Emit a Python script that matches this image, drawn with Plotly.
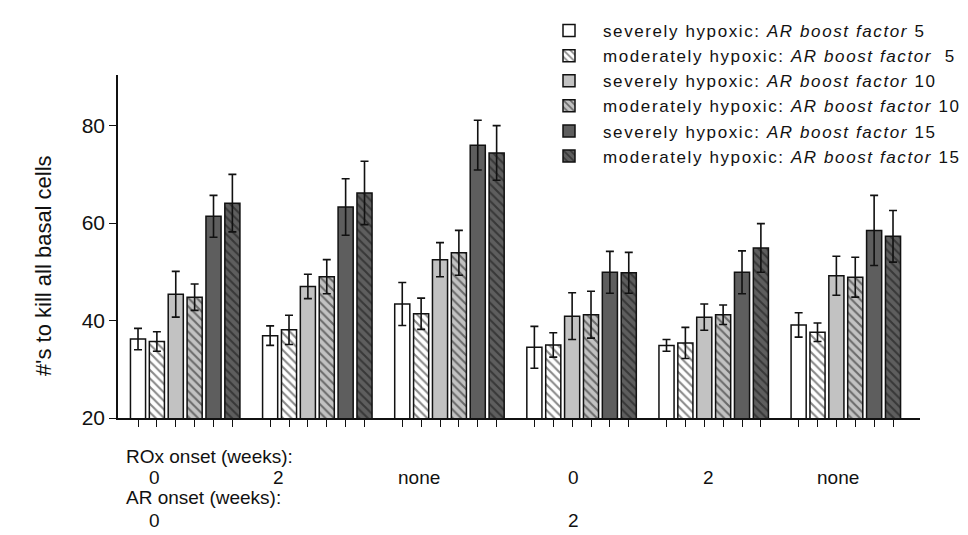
import plotly.graph_objects as go

# ---- data ----
groups_rox = ["0", "2", "none", "0", "2", "none"]
groups_ar = ["0", "", "", "2", "", ""]

series_names = [
    "severely hypoxic: <i>AR boost factor</i> 5",
    "moderately hypoxic: <i>AR boost factor</i> &nbsp;5",
    "severely hypoxic: <i>AR boost factor</i> 10",
    "moderately hypoxic: <i>AR boost factor</i> 10",
    "severely hypoxic: <i>AR boost factor</i> 15",
    "moderately hypoxic: <i>AR boost factor</i> 15",
]

sev5 = [36.2, 36.9, 43.4, 34.5, 34.9, 39.1]
mod5 = [35.7, 38.1, 41.4, 35.0, 35.4, 37.6]
sev10 = [45.4, 47.0, 52.5, 40.9, 40.7, 49.2]
mod10 = [44.8, 49.0, 53.9, 41.2, 41.2, 48.9]
sev15 = [61.4, 63.3, 76.0, 49.9, 49.9, 58.5]
mod15 = [64.1, 66.2, 74.4, 49.8, 54.9, 57.3]

sev5_err = [2.2, 2.0, 4.4, 4.3, 1.2, 2.5]
mod5_err = [2.0, 3.0, 3.2, 2.5, 3.2, 1.9]
sev10_err = [4.7, 2.5, 3.5, 4.8, 2.7, 4.0]
mod10_err = [2.7, 3.5, 4.6, 4.8, 2.0, 4.1]
sev15_err = [4.3, 5.8, 5.1, 4.3, 4.4, 7.2]
mod15_err = [5.9, 6.5, 5.6, 4.2, 5.0, 5.3]

values = [sev5, mod5, sev10, mod10, sev15, mod15]
errors = [sev5_err, mod5_err, sev10_err, mod10_err, sev15_err, mod15_err]

# ---- styles ----
fills = ["#ffffff", "#ffffff", "#c2c2c2", "#c2c2c2", "#5e5e5e", "#5e5e5e"]
hatched = [False, True, False, True, False, True]

FONT = "Liberation Sans, Arial, sans-serif"
n_groups = len(groups_rox)
slots = 7  # 6 bars + 1 gap per group

fig = go.Figure()
all_x = []
for s in range(6):
    xs = [g * slots + s for g in range(n_groups)]
    all_x += xs
    pattern = dict(shape="\\", fgcolor="#111111", bgcolor=fills[s], size=6, solidity=0.35) if hatched[s] else dict(shape="")
    fig.add_trace(go.Bar(
        x=xs, y=values[s],
        name='<span style="letter-spacing:1.6px">' + series_names[s] + '</span>',
        width=0.8,
        marker=dict(color=fills[s], line=dict(color="#111111", width=1.5), pattern=pattern),
        error_y=dict(type="data", array=errors[s], visible=True, color="#111111", thickness=1.6, width=4),
    ))

fig.update_layout(
    width=968, height=535,
    margin=dict(l=110, r=56, t=67, b=125, autoexpand=False),
    paper_bgcolor="white", plot_bgcolor="white",
    barmode="overlay",
    font=dict(family=FONT, size=20, color="#111111"),
    showlegend=True,
    legend=dict(x=(527 - 110) / 802, xref="paper", y=1.0 - 5 / 535, yref="container",
                xanchor="left", yanchor="top",
                font=dict(family=FONT, size=17, color="#111111"),
                bgcolor="rgba(0,0,0,0)", itemwidth=58, tracegroupgap=0),
)

fig.update_xaxes(range=[-1.06, 41.43], showgrid=False, zeroline=False,
                 showline=True, linecolor="#111111", linewidth=1.5,
                 tickmode="array", tickvals=sorted(all_x), ticktext=[""] * len(all_x),
                 ticks="outside", ticklen=7, tickwidth=1.3, tickcolor="#111111")
fig.update_yaxes(range=[20, 90.4], showgrid=False, zeroline=False,
                 showline=True, linecolor="#111111", linewidth=1.5,
                 tickvals=[20, 40, 60, 80], ticks="outside", ticklen=7, tickwidth=1.3,
                 tickcolor="#111111", tickfont=dict(size=21, family=FONT))

# y-axis title
fig.add_annotation(text="#'s to kill all basal cells", xref="paper", yref="paper",
                   x=(35 - 110) / 802, y=(410 - 258) / 343, textangle=-90,
                   showarrow=False, font=dict(size=22, family=FONT), xanchor="center", yanchor="middle")

def py(pix):
    return (410 - pix) / 343

def px(pix):
    return (pix - 110) / 802

label_x = [146, 270, 411, 565, 700, 830]
fig.add_annotation(text="ROx onset (weeks):", xref="paper", yref="paper", x=px(116), y=py(448),
                   xanchor="left", yanchor="middle", showarrow=False, font=dict(size=19, family=FONT))
for lx, t in zip(label_x, groups_rox):
    fig.add_annotation(text=t, xref="paper", yref="paper", x=px(lx), y=py(469),
                       xanchor="center", yanchor="middle", showarrow=False, font=dict(size=19, family=FONT))
fig.add_annotation(text="AR onset (weeks):", xref="paper", yref="paper", x=px(116), y=py(490),
                   xanchor="left", yanchor="middle", showarrow=False, font=dict(size=19, family=FONT))
for lx, t in zip(label_x, groups_ar):
    if t:
        fig.add_annotation(text=t, xref="paper", yref="paper", x=px(lx), y=py(512),
                           xanchor="center", yanchor="middle", showarrow=False, font=dict(size=19, family=FONT))

fig.write_html("out.html")
